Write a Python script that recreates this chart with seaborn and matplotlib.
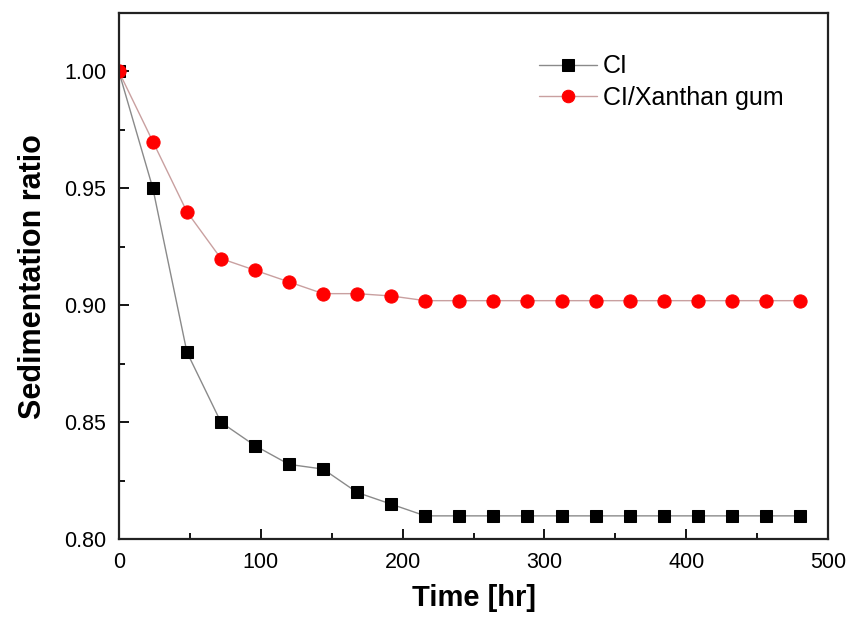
import numpy as np
import pandas as pd
import matplotlib
matplotlib.use("Agg")
import matplotlib.pyplot as plt
import seaborn as sns
from matplotlib.ticker import MultipleLocator

# ---------- data ----------
time_hr = [0, 24, 48, 72, 96, 120, 144, 168, 192, 216, 240, 264, 288,
           312, 336, 360, 384, 408, 432, 456, 480]
ci = [1.00, 0.95, 0.88, 0.85, 0.84, 0.832, 0.83, 0.82, 0.815, 0.81, 0.81,
      0.81, 0.81, 0.81, 0.81, 0.81, 0.81, 0.81, 0.81, 0.81, 0.81]
ci_xanthan = [1.00, 0.97, 0.94, 0.92, 0.915, 0.91, 0.905, 0.905, 0.904, 0.902,
              0.902, 0.902, 0.902, 0.902, 0.902, 0.902, 0.902, 0.902, 0.902,
              0.902, 0.902]

df = pd.DataFrame({"time": time_hr, "CI": ci, "CI/Xanthan gum": ci_xanthan})
long = df.melt(id_vars="time", var_name="sample", value_name="ratio")

sns.set_style("ticks")
plt.rcParams['font.family'] = ['Liberation Sans', 'DejaVu Sans']
plt.rcParams['text.color'] = 'black'
plt.rcParams['axes.labelcolor'] = 'black'
plt.rcParams['xtick.color'] = 'black'
plt.rcParams['ytick.color'] = 'black'

fig = plt.figure(figsize=(8.61, 6.17), dpi=100)
ax = fig.add_axes([0.138, 0.126, 0.824, 0.853])

styles = {
    "CI": dict(color="#8a8a8a", marker="s", markersize=8,
               markerfacecolor="black", markeredgecolor="black"),
    "CI/Xanthan gum": dict(color="#c9a0a0", marker="o", markersize=9.5,
                           markerfacecolor="#ff0000", markeredgecolor="#ff0000"),
}
for name, st in styles.items():
    sub = long[long["sample"] == name]
    sns.lineplot(data=sub, x="time", y="ratio", ax=ax, label=name,
                 linewidth=1.0, **st)

ax.set_xlim(0, 500)
ax.set_ylim(0.80, 1.025)
ax.xaxis.set_major_locator(MultipleLocator(100))
ax.xaxis.set_minor_locator(MultipleLocator(50))
ax.yaxis.set_major_locator(MultipleLocator(0.05))
ax.yaxis.set_minor_locator(MultipleLocator(0.025))
ax.yaxis.set_major_formatter(matplotlib.ticker.FormatStrFormatter("%.2f"))
ax.tick_params(which="major", direction="in", length=7, width=1.3,
               labelsize=15.5, pad=9)
ax.tick_params(which="minor", direction="in", length=4, width=1.3)
for sp in ax.spines.values():
    sp.set_linewidth(1.6)
    sp.set_color("#222222")

ax.set_xlabel("Time [hr]", fontsize=21, fontweight="bold", labelpad=8)
ax.set_ylabel("Sedimentation ratio", fontsize=22, fontweight="bold", labelpad=12)

leg = ax.legend(loc="upper left", bbox_to_anchor=(0.561, 0.964), frameon=False,
                fontsize=18, handlelength=2.3, handletextpad=0.25,
                labelspacing=0.3)
for h in leg.legend_handles:
    h.set_markersize(8 if h.get_marker() == "s" else 9)

fig.savefig("out.png", dpi=100)
